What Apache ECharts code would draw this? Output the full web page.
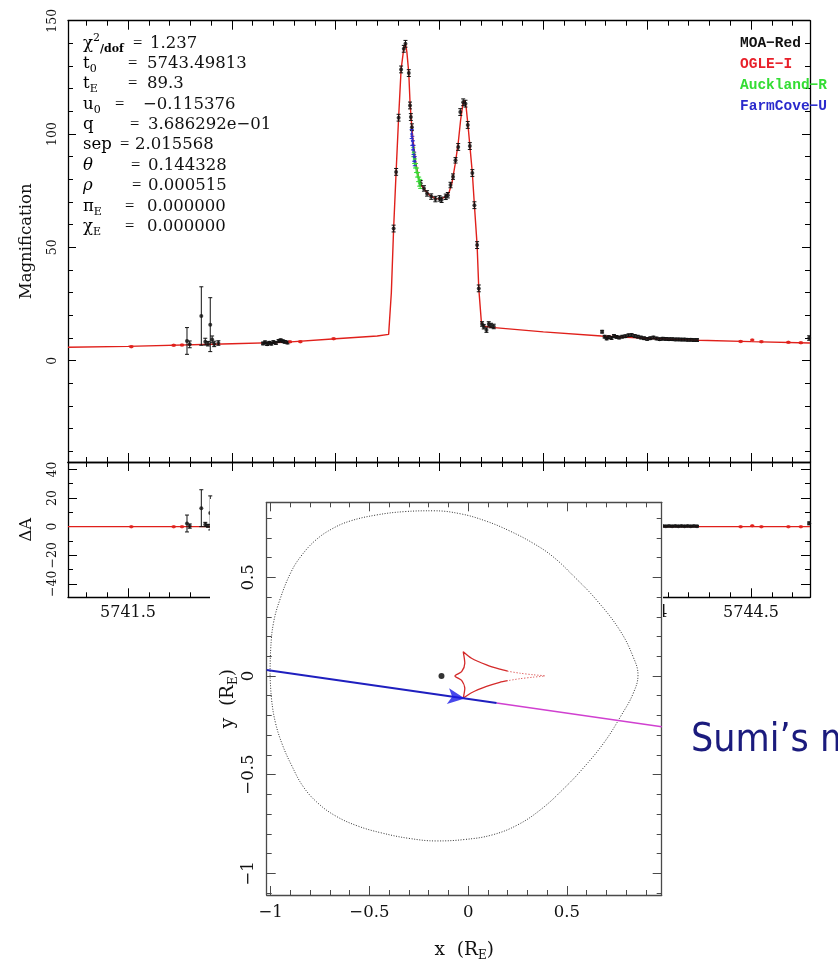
<!DOCTYPE html>
<html><head><meta charset="utf-8">
<script src="https://cdn.jsdelivr.net/npm/echarts@6/dist/echarts.min.js"></script>
<style>html,body{margin:0;padding:0;background:#fff}#c{width:838px;height:964px}</style>
</head><body><div id="c"></div>
<script>
// ---------------- DATA ----------------
// model light curve (HJD-2450000, magnification)
const modelT = [5741.211,5741.5,5742.0,5742.25,5742.5,5742.7,5742.755,5742.768,5742.779,5742.791,5742.803,5742.815,5742.828,5742.836,5742.843,5742.852,5742.858,5742.864,5742.871,5742.884,5742.900,5742.915,5742.932,5742.955,5742.980,5743.005,5743.025,5743.045,5743.060,5743.075,5743.090,5743.102,5743.113,5743.120,5743.128,5743.137,5743.147,5743.158,5743.168,5743.181,5743.189,5743.202,5743.215,5743.25,5743.5,5743.78,5744.0,5744.25,5744.5,5744.784];
const modelMag = [5.9,6.3,7.5,8.1,9.7,10.9,11.6,30,58.3,83.3,107.2,128.5,137.8,140.0,136,126.9,114,106,98.7,88.4,80.4,77.0,75.0,72.8,71.5,71.4,72.2,74.0,78.5,86.5,96.0,106.5,113.5,114.8,112.0,104.0,94.0,82.8,68.6,51.0,31.9,16.5,15.2,14.7,12.7,10.9,9.9,9.0,8.4,7.8];

// MOA-Red data
const moaT = [5741.784,5741.797,5741.853,5741.872,5741.885,5741.896,5741.905,5741.915,5741.935,
  5742.150,5742.160,5742.170,5742.180,5742.190,5742.200,5742.212,5742.225,5742.235,5742.245,5742.255,5742.268,
  5742.779,5742.791,5742.803,5742.815,5742.828,5742.836,5742.852,5742.858,5742.862,5742.867,
  5742.909,5742.925,5742.940,5742.960,5742.980,5743.000,5743.010,5743.030,5743.040,5743.053,5743.065,5743.077,5743.090,5743.100,5743.114,5743.125,5743.136,5743.146,5743.158,5743.168,5743.181,5743.189,
  5743.205,5743.213,5743.226,5743.237,5743.248,5743.261,
  5743.783,5743.795,5743.805,5743.815,5743.828,5743.840,5743.852,5743.865,5743.880,5743.895,5743.910,5743.925,5743.940,5743.955,5743.970,5743.985,5744.000,5744.015,5744.030,5744.045,5744.060,5744.075,5744.090,5744.105,5744.120,5744.135,5744.150,5744.165,5744.180,5744.195,5744.210,5744.225,5744.240,
  5744.780];
const moaMag = [8.7,7.2,19.7,8.4,7.5,15.9,9.4,7.4,7.8,
  7.6,8.1,7.3,7.9,7.5,8.2,7.8,8.7,9.0,8.6,8.3,8.0,
  58.3,83.3,107.2,128.5,137.6,139.8,126.9,112.6,107.5,103.0,
  78.3,76.0,73.8,72.4,71.3,71.6,71.0,72.3,73.0,77.5,81.2,88.4,94.3,109.7,114.0,113.4,104.0,94.7,82.8,68.6,51.0,31.9,
  16.2,15.0,13.5,16.2,15.5,15.1,
  12.8,10.6,9.8,10.4,10.0,10.9,10.5,10.2,10.6,10.8,11.2,11.3,10.9,10.6,10.2,9.9,9.6,9.9,10.2,9.8,9.5,9.7,9.6,9.5,9.5,9.4,9.4,9.3,9.3,9.2,9.2,9.1,9.1,
  10.0];
const moaErr = [5.9,1.5,12.9,1.5,1.0,11.9,1.5,1.2,1.0,
  0.6,0.6,0.6,0.6,0.6,0.6,0.6,0.6,0.6,0.6,0.6,0.6,
  1.5,1.5,1.5,1.5,1.5,1.5,1.5,1.5,1.5,1.5,
  1.2,1.2,1.2,1.2,1.2,1.2,1.2,1.2,1.2,1.2,1.2,1.2,1.5,1.5,1.5,1.5,1.5,1.5,1.5,1.5,1.5,1.5,
  1.0,1.0,1.0,1.0,1.0,1.0,
  0.6,0.6,0.6,0.6,0.6,0.6,0.6,0.6,0.6,0.6,0.6,0.6,0.6,0.6,0.6,0.6,0.6,0.6,0.6,0.6,0.6,0.6,0.6,0.6,0.6,0.6,0.6,0.6,0.6,0.6,0.6,0.6,0.6,
  1.0];
const moaRes = [2.2,0.4,12.9,1.5,0.6,9.6,2.4,0.5,0.8,
  -0.3,0.2,-0.6,0.0,-0.4,0.3,-0.1,0.8,1.1,0.7,0.3,0.0,
  0.3,-0.5,0.6,0.2,-0.4,0.1,0.5,-0.6,0.4,-0.3,
  0.2,-0.4,0.3,-0.2,0.1,0.2,-0.5,0.4,-0.3,0.6,-0.2,0.3,-0.4,0.5,0.2,-0.3,0.4,0.2,-0.2,0.1,0.3,-0.2,
  0.3,-0.3,-0.6,0.8,0.5,0.3,
  1.9,-0.2,-1.0,-0.3,-0.7,0.3,0.0,-0.3,0.2,0.4,0.9,1.1,0.7,0.5,0.2,-0.1,-0.3,0.1,0.4,0.3,0.2,0.4,0.3,0.4,0.3,0.4,0.3,0.4,0.3,0.4,0.3,0.4,0.3,
  2.3];

// OGLE-I data
const ogleT = [5741.516,5741.72,5741.76,5742.28,5742.33,5742.49,5744.45,5744.506,5744.55,5744.68,5744.74];
const ogleMag = [6.2,6.8,6.9,8.3,8.4,9.7,8.5,9.1,8.4,8.1,7.9];
const ogleErr = [0.3,0.3,0.3,0.3,0.3,0.3,0.3,0.3,0.3,0.3,0.3];
const ogleRes = [0.0,0.0,0.0,0.1,0.0,0.0,0.0,0.6,0.0,0.0,0.0];

// Auckland-R data
const aucT = [5742.874,5742.878,5742.882,5742.887,5742.892,5742.897,5742.902,5742.907];
const aucMag = [92,89,87,85,83,81,79,78];
const aucErr = [2,2,2,2,2,2,2,2];
const aucRes = [0.5,-0.4,0.3,-0.2,0.4,-0.3,0.2,0.1];

// FarmCove-U data
const fcT = [5742.866,5742.869,5742.872,5742.875,5742.878,5742.881];
const fcMag = [100,97,95,93,90,88];
const fcErr = [2,2,2,2,2,2];
const fcRes = [0.4,-0.3,0.5,0.2,-0.4,0.3];

// tick values
const timeTicks = [5741.5,5742,5742.5,5743,5743.5,5744,5744.5];
const magTicks = [0,50,100,150];
const resTicks = [-40,-20,0,20,40];
const posTicks = [-1,-0.5,0,0.5];

// legend / fit parameters
const legendNames = ['MOA\u2212Red','OGLE\u2212I','Auckland\u2212R','FarmCove\u2212U'];
const legendColors = ['#111111','#e8202a','#33dd33','#2a2acc'];
const paramLabels = ['{b|\u03c7}{sup|2}{dof|/dof}','{b|t}{sub|0}','{b|t}{sub|E}','{b|u}{sub|0}','{b|q}','{b|sep}','{i|\u03b8}','{i|\u03c1}','{b|\u03c0}{sub|E}','{b|\u03c7}{sub|E}'];
const paramValues = ['1.237','5743.49813','89.3','\u22120.115376','3.686292e\u221201','2.015568','0.144328','0.000515','0.000000','0.000000'];

// inset: source plane geometry (units of R_E)
const critX = [-1.003,-0.995,-0.975,-0.94,-0.895,-0.835,-0.76,-0.67,-0.56,-0.44,-0.30,-0.16,-0.02,0.12,0.25,0.37,0.48,0.58,0.69,0.775,0.835,0.86,0.835,0.767,0.65,0.54,0.43,0.33,0.21,0.09,-0.04,-0.177,-0.32,-0.463,-0.598,-0.69,-0.77,-0.84,-0.895,-0.952,-0.986,-1.0,-1.003];
const critY = [0.005,-0.122,-0.24,-0.35,-0.451,-0.561,-0.645,-0.71,-0.76,-0.795,-0.823,-0.836,-0.829,-0.806,-0.755,-0.675,-0.575,-0.47,-0.335,-0.2,-0.09,0.005,0.098,0.233,0.385,0.50,0.604,0.672,0.735,0.785,0.822,0.837,0.833,0.816,0.785,0.745,0.69,0.615,0.53,0.39,0.267,0.132,0.005];
const causticX = [0.20,0.16,0.093,0.017,-0.025,-0.017,-0.033,-0.067,-0.033,-0.017,-0.025,0.017,0.093,0.16,0.20];
const causticY = [0.024,0.034,0.056,0.09,0.123,0.064,0.022,0,-0.022,-0.064,-0.113,-0.085,-0.053,-0.032,-0.024];
const causticDotX = [0.20,0.262,0.33,0.388,0.33,0.262,0.20];
const causticDotY = [0.024,0.014,0.006,0,-0.006,-0.014,-0.024];
const trajBlueX = [-1.02,0.144];
const trajBlueY = [0.030,-0.137];
const trajMagX = [0.144,0.98];
const trajMagY = [-0.137,-0.257];
const arrowX = [-0.017];
const arrowY = [-0.114];
const lensX = [-0.135];
const lensY = [0];

// ---------------- BUILD ----------------
const SERIF = "'DejaVu Serif', serif";
function range(a, b, s) { const out = []; const n = Math.round((b - a) / s); for (let i = 0; i <= n; i++) out.push(Math.round((a + i * s) * 1000) / 1000); return out; }
function fmt(v) { return String(Math.round(v * 1000) / 1000).replace('-', '\u2212'); }
function zip(a, b) { return a.map((v, i) => [v, b[i]]); }

const xAxes = [], yAxes = [];
function mkAxis(kind, o) {
  const base = { type: 'value', gridIndex: o.grid, position: o.pos, min: o.min, max: o.max, z: o.z || 0,
    splitLine: { show: false }, splitArea: { show: false }, axisPointer: { show: false } };
  const major = Object.assign({}, base, {
    axisLine: { show: true, onZero: false, lineStyle: { color: o.color, width: o.width } },
    axisTick: { show: true, inside: true, length: o.majLen, customValues: o.majors, lineStyle: { color: o.color, width: 1 } },
    axisLabel: o.label ? Object.assign({ show: true, customValues: o.majors, formatter: fmt, fontFamily: SERIF, color: '#111' }, o.label) : { show: false }
  }, o.name || {});
  const minor = Object.assign({}, base, {
    axisLine: { show: false, onZero: false },
    axisTick: { show: true, inside: true, length: o.minLen, customValues: o.minors, lineStyle: { color: o.color, width: 1 } },
    axisLabel: { show: false }
  });
  const arr = kind === 'x' ? xAxes : yAxes;
  arr.push(major); const idx = arr.length - 1; arr.push(minor); return idx;
}

const T0 = 5741.211, T1 = 5744.784;
const timeMinor = range(5741.3, 5744.7, 0.1);
const magMinor = range(-40, 150, 10);
const resMinor = range(-40, 40, 10);
const posXMinor = range(-1, 0.9, 0.1);
const posYMinor = range(-1.1, 0.8, 0.1);

// grid 0: light curve
const gx0 = mkAxis('x', { grid: 0, pos: 'bottom', min: T0, max: T1, majors: timeTicks, minors: timeMinor, majLen: 9, minLen: 5, color: '#000', width: 1.3 });
mkAxis('x', { grid: 0, pos: 'top', min: T0, max: T1, majors: timeTicks, minors: timeMinor, majLen: 9, minLen: 5, color: '#000', width: 1.3 });
const gy0 = mkAxis('y', { grid: 0, pos: 'left', min: -44.7, max: 150, majors: magTicks, minors: magMinor, majLen: 8, minLen: 5, color: '#000', width: 1.3,
  label: { rotate: 90, margin: 9, fontSize: 12.5 },
  name: { name: 'Magnification', nameLocation: 'middle', nameGap: 33, nameRotate: 90, nameTextStyle: { fontSize: 16.5, fontFamily: SERIF, color: '#111' } } });
mkAxis('y', { grid: 0, pos: 'right', min: -44.7, max: 150, majors: magTicks, minors: magMinor, majLen: 8, minLen: 5, color: '#000', width: 1.3 });

// grid 1: residuals
const gx1 = mkAxis('x', { grid: 1, pos: 'bottom', min: T0, max: T1, majors: timeTicks, minors: timeMinor, majLen: 9, minLen: 5, color: '#000', width: 1.3,
  label: { margin: 8, fontSize: 16 } });
mkAxis('x', { grid: 1, pos: 'top', min: T0, max: T1, majors: timeTicks, minors: timeMinor, majLen: 9, minLen: 5, color: '#000', width: 1.3 });
const gy1 = mkAxis('y', { grid: 1, pos: 'left', min: -49.4, max: 45.2, majors: resTicks, minors: resMinor, majLen: 9, minLen: 5, color: '#000', width: 1.3,
  label: { rotate: 90, margin: 9, fontSize: 12.5 },
  name: { name: '\u0394A', nameLocation: 'middle', nameGap: 33, nameRotate: 90, nameTextStyle: { fontSize: 16.5, fontFamily: SERIF, color: '#111' } } });
mkAxis('y', { grid: 1, pos: 'right', min: -49.4, max: 45.2, majors: resTicks, minors: resMinor, majLen: 9, minLen: 5, color: '#000', width: 1.3 });

// grid 2: inset source plane
const IC = '#4a4a4a';
const subRich = { e: { fontSize: 12, fontFamily: SERIF, color: '#111', verticalAlign: 'bottom', lineHeight: 13 } };
const gx2 = mkAxis('x', { grid: 2, pos: 'bottom', min: -1.02, max: 0.98, majors: posTicks, minors: posXMinor, majLen: 9, minLen: 5, color: IC, width: 1.3, z: 30,
  label: { margin: 9, fontSize: 16.5 },
  name: { name: 'x  (R{e|E})', nameLocation: 'middle', nameGap: 43, nameTextStyle: { fontSize: 18.5, fontFamily: SERIF, color: '#111', lineHeight: 24, rich: subRich } } });
mkAxis('x', { grid: 2, pos: 'top', min: -1.02, max: 0.98, majors: posTicks, minors: posXMinor, majLen: 9, minLen: 5, color: IC, width: 1.3, z: 30 });
const gy2 = mkAxis('y', { grid: 2, pos: 'left', min: -1.11, max: 0.88, majors: posTicks, minors: posYMinor, majLen: 9, minLen: 5, color: IC, width: 1.3, z: 30,
  label: { rotate: 90, margin: 9, fontSize: 16.5 },
  name: { name: 'y  (R{e|E})', nameLocation: 'middle', nameGap: 26, nameRotate: 90, nameTextStyle: { fontSize: 18.5, fontFamily: SERIF, color: '#111', lineHeight: 24, rich: subRich } } });
mkAxis('y', { grid: 2, pos: 'right', min: -1.11, max: 0.88, majors: posTicks, minors: posYMinor, majLen: 9, minLen: 5, color: IC, width: 1.3, z: 30 });

function errSeries(xi, yi, ts, ys, es, color, z) {
  return {
    type: 'custom', xAxisIndex: xi, yAxisIndex: yi, z: z, clip: true, silent: true,
    data: ts.map((t, i) => [t, ys[i], es[i]]), encode: { x: 0, y: 1 },
    renderItem: function (params, api) {
      const t = api.value(0), y = api.value(1), e = api.value(2);
      const lo = api.coord([t, y - e]), hi = api.coord([t, y + e]); const c = 2;
      const st = { stroke: color, lineWidth: 1 };
      return { type: 'group', children: [
        { type: 'line', shape: { x1: lo[0], y1: lo[1], x2: hi[0], y2: hi[1] }, style: st },
        { type: 'line', shape: { x1: lo[0] - c, y1: lo[1], x2: lo[0] + c, y2: lo[1] }, style: st },
        { type: 'line', shape: { x1: hi[0] - c, y1: hi[1], x2: hi[0] + c, y2: hi[1] }, style: st }
      ] };
    }
  };
}
function pts(xi, yi, ts, ys, color, size, z) {
  return { type: 'scatter', xAxisIndex: xi, yAxisIndex: yi, data: zip(ts, ys), symbol: 'circle', symbolSize: size, itemStyle: { color: color }, z: z, silent: true, clip: true };
}
const RED = '#e0201b';
const series = [
  // light curve
  { type: 'line', xAxisIndex: gx0, yAxisIndex: gy0, data: zip(modelT, modelMag), showSymbol: false, lineStyle: { color: RED, width: 1.4 }, z: 3, clip: true, silent: true },
  errSeries(gx0, gy0, moaT, moaMag, moaErr, '#111', 4),
  errSeries(gx0, gy0, ogleT, ogleMag, ogleErr, RED, 4),
  errSeries(gx0, gy0, aucT, aucMag, aucErr, '#33dd33', 4),
  errSeries(gx0, gy0, fcT, fcMag, fcErr, '#2a2acc', 4),
  pts(gx0, gy0, moaT, moaMag, '#111', 4, 5),
  pts(gx0, gy0, ogleT, ogleMag, RED, 3.5, 5),
  pts(gx0, gy0, aucT, aucMag, '#33dd33', 3, 5),
  pts(gx0, gy0, fcT, fcMag, '#2a2acc', 3, 5),
  // residuals
  { type: 'line', xAxisIndex: gx1, yAxisIndex: gy1, data: modelT.map(t => [t, 0]), showSymbol: false, lineStyle: { color: RED, width: 1.2 }, z: 3, clip: true, silent: true },
  errSeries(gx1, gy1, moaT, moaRes, moaErr, '#111', 4),
  errSeries(gx1, gy1, ogleT, ogleRes, ogleErr, RED, 4),
  errSeries(gx1, gy1, aucT, aucRes, aucErr, '#33dd33', 4),
  errSeries(gx1, gy1, fcT, fcRes, fcErr, '#2a2acc', 4),
  pts(gx1, gy1, moaT, moaRes, '#111', 4, 5),
  pts(gx1, gy1, ogleT, ogleRes, RED, 3.5, 5),
  pts(gx1, gy1, aucT, aucRes, '#33dd33', 3, 5),
  pts(gx1, gy1, fcT, fcRes, '#2a2acc', 3, 5),
  // inset
  { type: 'line', xAxisIndex: gx2, yAxisIndex: gy2, data: zip(critX, critY), showSymbol: false, smooth: 0.4, lineStyle: { color: '#333', width: 1, type: [1, 1.6] }, z: 31, silent: true },
  { type: 'line', xAxisIndex: gx2, yAxisIndex: gy2, data: zip(causticX, causticY), showSymbol: false, smooth: 0.25, lineStyle: { color: '#d42a2a', width: 1.3 }, z: 32, silent: true },
  { type: 'line', xAxisIndex: gx2, yAxisIndex: gy2, data: zip(causticDotX, causticDotY), showSymbol: false, smooth: 0.3, lineStyle: { color: '#d42a2a', width: 1, type: [1, 2] }, z: 32, silent: true },
  { type: 'line', xAxisIndex: gx2, yAxisIndex: gy2, data: zip(trajMagX, trajMagY), showSymbol: false, lineStyle: { color: '#d040d0', width: 1.5 }, z: 33, silent: true },
  { type: 'line', xAxisIndex: gx2, yAxisIndex: gy2, data: zip(trajBlueX, trajBlueY), showSymbol: false, lineStyle: { color: '#1f1fbf', width: 2 }, z: 34, silent: true },
  { type: 'scatter', xAxisIndex: gx2, yAxisIndex: gy2, data: zip(arrowX, arrowY), symbol: 'arrow', symbolSize: [12, 17], symbolRotate: -98, itemStyle: { color: '#1a1ae6' }, z: 35, silent: true },
  { type: 'scatter', xAxisIndex: gx2, yAxisIndex: gy2, data: zip(lensX, lensY), symbol: 'circle', symbolSize: 6, itemStyle: { color: '#000' }, z: 35, silent: true }
];

// graphics
const graphics = [
  { type: 'rect', shape: { x: 210, y: 499, width: 453, height: 465 }, style: { fill: '#fff' }, z: 20, silent: true }
];
const richP = {
  b: { fontSize: 16.5, fontFamily: SERIF, color: '#111', lineHeight: 22, verticalAlign: 'middle' },
  i: { fontSize: 16.5, fontFamily: SERIF, fontStyle: 'italic', color: '#111', lineHeight: 22, verticalAlign: 'middle' },
  sub: { fontSize: 11, fontFamily: SERIF, color: '#111', lineHeight: 11, verticalAlign: 'bottom' },
  sup: { fontSize: 11, fontFamily: SERIF, color: '#111', lineHeight: 11, verticalAlign: 'top' },
  dof: { fontSize: 11, fontFamily: SERIF, fontWeight: 'bold', color: '#111', lineHeight: 16, verticalAlign: 'bottom' }
};
const eqX = [133, 128, 128, 115, 130, 120, 131, 132, 125, 125];
const valX = [150, 147, 147, 143, 148, 135, 148, 148, 147, 147];
paramLabels.forEach((lab, i) => {
  const y = 43.3 + 20.37 * i;
  graphics.push({ type: 'text', x: 83, y: y, z: 40, silent: true, style: { text: lab, rich: richP, verticalAlign: 'middle', align: 'left', fontSize: 16.5, fontFamily: SERIF } });
  graphics.push({ type: 'text', x: eqX[i], y: y, z: 40, silent: true, style: { text: '=', fontSize: 16.5, fontFamily: "'Liberation Serif', serif", fill: '#111', verticalAlign: 'middle', align: 'left' } });
  graphics.push({ type: 'text', x: valX[i], y: y, z: 40, silent: true, style: { text: paramValues[i], fontSize: 16.5, fontFamily: SERIF, fill: '#111', verticalAlign: 'middle', align: 'left' } });
});
legendNames.forEach((n, i) => {
  graphics.push({ type: 'text', x: 740, y: 43.5 + 20.9 * i, z: 40, silent: true, style: { text: n, fontSize: 14.5, fontFamily: "'Liberation Mono', 'DejaVu Sans Mono', monospace", fontWeight: 'bold', fill: legendColors[i], verticalAlign: 'middle', align: 'left' } });
});
graphics.push({ type: 'text', x: 691, y: 741, z: 40, silent: true, style: { text: 'Sumi\u2019s model', fontSize: 39, fontFamily: "Tahoma, 'DejaVu Sans Condensed', 'Liberation Sans', sans-serif", fill: '#1b1b7d', verticalAlign: 'middle', align: 'left' } });

const chart = echarts.init(document.getElementById('c'), null, { renderer: 'canvas', width: 838, height: 964 });
chart.setOption({
  backgroundColor: '#fff',
  animation: false,
  grid: [
    { left: 68, right: 28, top: 20.7, height: 441.3, outerBoundsMode: 'none' },
    { left: 68, right: 28, top: 462, height: 135.3, outerBoundsMode: 'none' },
    { left: 266.7, top: 502.3, width: 395, height: 392.7, outerBoundsMode: 'none' }
  ],
  xAxis: xAxes,
  yAxis: yAxes,
  series: series,
  graphic: { elements: graphics }
});
</script></body></html>
